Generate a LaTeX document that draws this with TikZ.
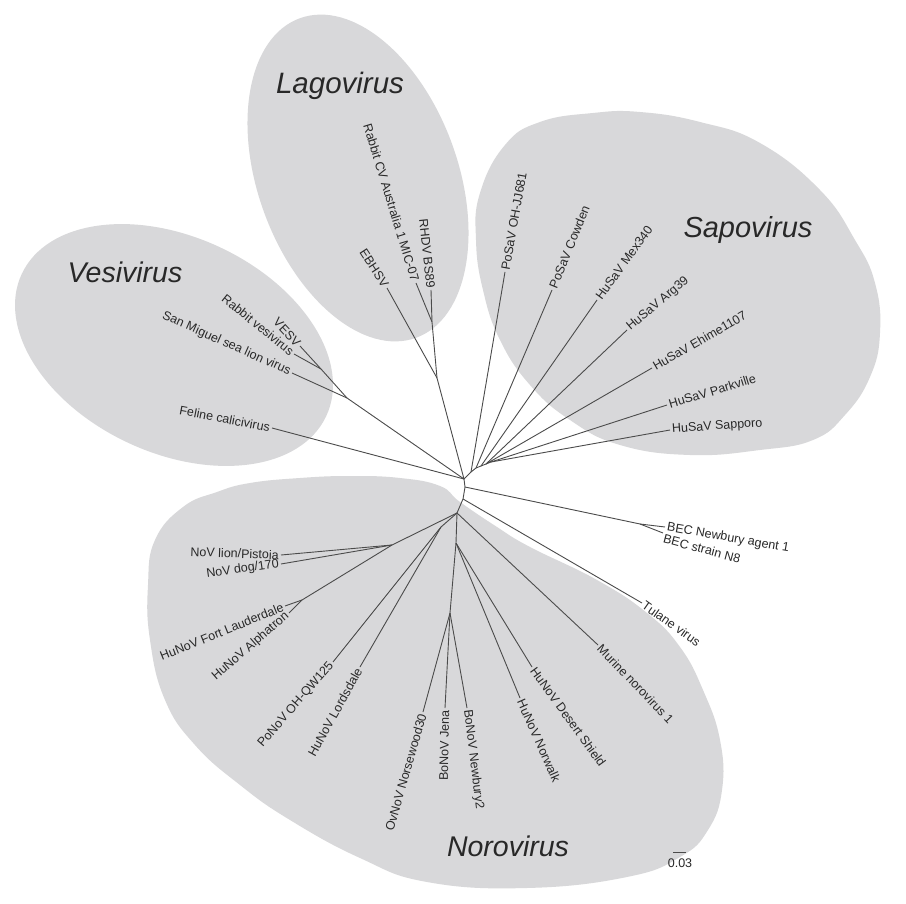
\documentclass[tikz,border=0pt]{standalone}
\usepackage{fontspec}
\setmainfont{Liberation Sans}
\definecolor{blobgray}{RGB}{216,216,218}
\definecolor{linegray}{RGB}{75,75,75}
\definecolor{txtgray}{RGB}{40,40,40}
\newcommand\labfont{\fontsize{12.5}{14}\selectfont}
\newcommand\genusfont{\fontsize{29.5}{30}\selectfont\itshape}
\begin{document}
\begin{tikzpicture}[x=1pt,y=-1pt,
  blob/.style={fill=blobgray,draw=none},
  br/.style={draw=linegray,line width=0.9pt},
  lab/.style={font=\labfont,text=txtgray,inner sep=2pt},
  labR/.style={lab,anchor=west},
  labL/.style={lab,anchor=east},
  genus/.style={font=\genusfont,text=txtgray,inner sep=0pt,anchor=base}]
\useasboundingbox (0,0) rectangle (906,904);
\fill[white] (0,0) rectangle (906,904);

% ---- group blobs ----
\coordinate (cLago) at (358,178);
\coordinate (cVesi) at (174,345);
\fill[blob,rotate around={20:(cLago)}] (cLago) ellipse (100 and 170);
\fill[blob,rotate around={-25:(cVesi)}] (cVesi) ellipse (168 and 108);
\fill[blob] plot[smooth cycle,tension=0.75] coordinates {
 (480,193) (476,240) (483,290) (500,340) (530,385) (570,420) (620,445) (690,455)
 (760,450) (813,440) (845,415) (870,377) (880,333) (875,283) (855,240) (820,190)
 (760,143) (700,122) (640,112) (593,113) (540,122) (505,145)};
\fill[blob] plot[smooth cycle,tension=0.75] coordinates {
 (155,540) (183,507) (217,492) (250,483) (300,478) (350,476) (400,478) (440,486)
 (460,502) (497,527) (530,547) (597,580) (647,613) (680,647) (703,690) (720,740)
 (722,790) (708,830) (680,857) (627,877) (527,888) (427,882) (360,858) (290,820)
 (240,785) (195,745) (165,700) (150,640) (148,585)};

% ---- internal nodes ----
\coordinate (J0) at (464,479);
\coordinate (J1) at (465,487);
\coordinate (J2) at (463,499);
\coordinate (N0) at (457,513);
\coordinate (L0) at (437,378);
\coordinate (L1) at (432,322);
\coordinate (V0) at (347,398);
\coordinate (V1) at (321,369);
\coordinate (S0) at (471,472);
\coordinate (S1) at (476,468);
\coordinate (S2) at (481,466);
\coordinate (S3) at (486,464);
\coordinate (S4) at (491,462);
\coordinate (B1) at (640,524);
\coordinate (G0) at (392,545);
\coordinate (H0) at (302,600);
\coordinate (N3) at (441,527);
\coordinate (N2) at (456,543);
\coordinate (B0) at (450,613);

% ---- tips ----
\coordinate (tEBHSV) at (387,288);
\coordinate (tRCV) at (416,283);
\coordinate (tRHDV) at (431,290);
\coordinate (tVESV) at (300,346);
\coordinate (tRVV) at (294,354);
\coordinate (tSMSL) at (292,373);
\coordinate (tFCV) at (272,428);
\coordinate (tOHJJ) at (505,272);
\coordinate (tCow) at (552,290);
\coordinate (tMex) at (597,300);
\coordinate (tArg) at (627,330);
\coordinate (tEhi) at (652,368);
\coordinate (tPark) at (667,405);
\coordinate (tSapp) at (670,430);
\coordinate (tBECN) at (665,527);
\coordinate (tBEC8) at (663,533);
\coordinate (tTul) at (642,603);
\coordinate (tMur) at (598,645);
\coordinate (tDS) at (532,667);
\coordinate (tNorw) at (520,698);
\coordinate (tNew2) at (467,708);
\coordinate (tJena) at (445,708);
\coordinate (tOv) at (423,712);
\coordinate (tLord) at (360,667);
\coordinate (tPoNoV) at (333,662);
\coordinate (tAlph) at (289,613);
\coordinate (tFL) at (285,606);
\coordinate (tDog) at (281,564);
\coordinate (tLion) at (281,555);

% ---- branches ----
\draw[br] (J0) -- (J1) -- (J2) -- (N0);
\draw[br] (J0) -- (L0) -- (tEBHSV);
\draw[br] (L0) -- (L1) -- (tRCV);
\draw[br] (L1) -- (tRHDV);
\draw[br] (J0) -- (V0) -- (tSMSL);
\draw[br] (V0) -- (V1) -- (tVESV);
\draw[br] (V1) -- (tRVV);
\draw[br] (J0) -- (tFCV);
\draw[br] (J0) -- (S0) -- (tOHJJ);
\draw[br] (S0) -- (S1) -- (tCow);
\draw[br] (S1) -- (S2) -- (tMex);
\draw[br] (S2) -- (S3) -- (tArg);
\draw[br] (S3) -- (tEhi);
\draw[br] (S3) -- (S4) -- (tPark);
\draw[br] (S4) -- (tSapp);
\draw[br] (J1) -- (B1) -- (tBECN);
\draw[br] (B1) -- (tBEC8);
\draw[br] (J2) -- (tTul);
\draw[br] (N0) -- (tMur);
\draw[br] (N0) -- (N2) -- (B0);
\draw[br] (N2) -- (tDS);
\draw[br] (N2) -- (tNorw);
\draw[br] (B0) -- (tOv);
\draw[br] (B0) -- (tJena);
\draw[br] (B0) -- (tNew2);
\draw[br] (N0) -- (N3) -- (tPoNoV);
\draw[br] (N3) -- (tLord);
\draw[br] (N0) -- (G0) -- (tLion);
\draw[br] (G0) -- (tDog);
\draw[br] (G0) -- (H0) -- (tFL);
\draw[br] (H0) -- (tAlph);

% ---- leaf labels ----
\node[labL,rotate=-57] (lEBHSV) at (tEBHSV) {EBHSV};
\node[labL,rotate=-73] (lRCV) at (tRCV) {Rabbit CV Australia 1 MIC-07};
\node[labL,rotate=-84] (lRHDV) at (tRHDV) {RHDV BS89};
\node[labL,rotate=-47] (lVESV) at (tVESV) {VESV};
\node[labL,rotate=-39] (lRVV) at (tRVV) {Rabbit vesivirus};
\node[labL,rotate=-24] (lSMSL) at (tSMSL) {San Miguel sea lion virus};
\node[labL,rotate=-11] (lFCV) at (tFCV) {Feline calicivirus};
\node[labR,rotate=80] (lOHJJ) at (tOHJJ) {PoSaV OH-JJ681};
\node[labR,rotate=68] (lCow) at (tCow) {PoSaV Cowden};
\node[labR,rotate=54] (lMex) at (tMex) {HuSaV Mex340};
\node[labR,rotate=40] (lArg) at (tArg) {HuSaV Arg39};
\node[labR,rotate=30] (lEhi) at (tEhi) {HuSaV Ehime1107};
\node[labR,rotate=17] (lPark) at (tPark) {HuSaV Parkville};
\node[labR,rotate=4] (lSapp) at (tSapp) {HuSaV Sapporo};
\node[labR,rotate=-10] (lBECN) at (tBECN) {BEC Newbury agent 1};
\node[labR,rotate=-15,yshift=-5] (lBEC8) at (tBEC8) {BEC strain N8};
\node[labR,rotate=-35] (lTul) at (tTul) {Tulane virus};
\node[labR,rotate=-46] (lMur) at (tMur) {Murine norovirus 1};
\node[labR,rotate=-54] (lDS) at (tDS) {HuNoV Desert Shield};
\node[labR,rotate=-66] (lNorw) at (tNorw) {HuNoV Norwalk};
\node[labR,rotate=-83] (lNew2) at (tNew2) {BoNoV Newbury2};
\node[labL,rotate=89] (lJena) at (tJena) {BoNoV Jena};
\node[labL,rotate=74] (lOv) at (tOv) {OvNoV Norsewood30};
\node[labL,rotate=61] (lLord) at (tLord) {HuNoV Lordsdale};
\node[labL,rotate=49] (lPoNoV) at (tPoNoV) {PoNoV OH-QW125};
\node[labL,rotate=41] (lAlph) at (tAlph) {HuNoV Alphatron};
\node[labL,rotate=22] (lFL) at (tFL) {HuNoV Fort Lauderdale};
\node[labL,rotate=8] (lDog) at (tDog) {NoV dog/170};
\node[labL,rotate=-2] (lLion) at (tLion) {NoV lion/Pistoia};

% ---- genus names ----
\node[genus] (gLago) at (340,94) {Lagovirus};
\node[genus,font=\fontsize{28.5}{30}\selectfont\itshape] (gVesi) at (125,283) {Vesivirus};
\node[genus,font=\fontsize{29}{30}\selectfont\itshape] (gSapo) at (748,238) {Sapovirus};
\node[genus,font=\fontsize{28.5}{30}\selectfont\itshape] (gNoro) at (508,856) {Norovirus};

% ---- scale bar ----
\coordinate (sbA) at (673,852);
\coordinate (sbB) at (686,852);
\draw[br] (sbA) -- (sbB);
\node[lab,anchor=north] (sbT) at (680,857) {0.03};
\end{tikzpicture}
\end{document}
